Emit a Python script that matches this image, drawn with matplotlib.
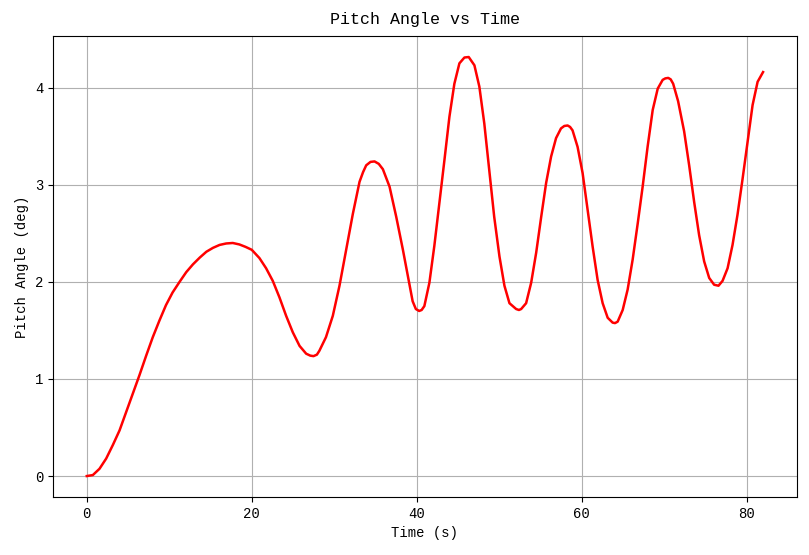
import matplotlib
matplotlib.use("Agg")
import matplotlib.pyplot as plt

# values
time_s = [
    0.0, 0.73, 1.54, 2.35, 3.16, 3.97, 4.78, 5.59, 6.39, 7.2, 8.0, 8.8, 9.6,
    10.4, 11.25, 12.06, 12.87, 13.7, 14.5, 15.3, 16.1, 16.9, 17.7, 18.5, 19.25,
    20.0, 20.93, 21.74, 22.55, 23.36, 24.17, 24.98, 25.8, 26.6, 27.1, 27.49,
    27.9, 28.2, 29.0, 29.83, 30.64, 31.45, 32.26, 33.07, 33.5, 33.88, 34.4,
    34.89, 35.4, 35.9, 36.71, 37.52, 38.33, 39.14, 39.51, 39.9, 40.3, 40.6,
    40.93, 41.54, 42.14, 42.75, 43.36, 43.97, 44.57, 45.18, 45.79, 46.31,
    47.0, 47.6, 48.2, 48.8, 49.4, 50.04, 50.64, 51.25, 52.06, 52.4, 52.67,
    53.27, 53.88, 54.49, 55.1, 55.7, 56.3, 56.9, 57.5, 57.9, 58.3, 58.6, 58.9,
    59.51, 60.12, 60.73, 61.34, 61.94, 62.55, 63.16, 63.76, 64.05, 64.37,
    64.98, 65.58, 66.19, 66.8, 67.4, 68.0, 68.62, 69.23, 69.83, 70.15, 70.5,
    70.8, 71.1, 71.7, 72.43, 73.04, 73.65, 74.25, 74.86, 75.47, 76.07, 76.6,
    77.09, 77.7, 78.3, 78.9, 79.5, 80.12, 80.73, 81.34, 82.0,
]
pitch_deg = [
    0.0, 0.01, 0.075, 0.18, 0.32, 0.47, 0.66, 0.85, 1.04, 1.24, 1.43, 1.60, 1.76,
    1.89, 2.0, 2.10, 2.18, 2.25, 2.31, 2.35, 2.38, 2.395, 2.40, 2.385, 2.36,
    2.33, 2.245, 2.14, 2.01, 1.84, 1.65, 1.48, 1.34, 1.26, 1.24, 1.235,
    1.25, 1.29, 1.43, 1.65, 1.96, 2.33, 2.70, 3.03, 3.13, 3.20, 3.235,
    3.24, 3.215, 3.16, 2.98, 2.67, 2.33, 1.97, 1.80, 1.72, 1.70, 1.71,
    1.75, 1.99, 2.37, 2.81, 3.25, 3.70, 4.04, 4.25, 4.31, 4.315,
    4.23, 4.01, 3.63, 3.15, 2.67, 2.26, 1.96, 1.78, 1.72, 1.71, 1.72,
    1.78, 1.99, 2.30, 2.67, 3.02, 3.29, 3.48, 3.58, 3.605, 3.61, 3.595, 3.56,
    3.39, 3.12, 2.74, 2.36, 2.02, 1.78, 1.63, 1.58, 1.575, 1.59,
    1.71, 1.92, 2.23, 2.60, 2.98, 3.39, 3.77, 3.99, 4.08, 4.095, 4.10,
    4.085, 4.04, 3.86, 3.55, 3.20, 2.82, 2.48, 2.21, 2.04, 1.97, 1.96,
    2.01, 2.14, 2.38, 2.69, 3.05, 3.44, 3.82, 4.06, 4.16,
]

plt.rcParams["font.family"] = ["Liberation Mono", "DejaVu Sans Mono"]

fig, ax = plt.subplots(figsize=(8.09, 5.55), dpi=100)
ax.plot(time_s, pitch_deg, color="red", linewidth=1.8)
ax.set_title("Pitch Angle vs Time", fontsize=12, pad=9)
ax.set_xlabel("Time (s)", fontsize=10)
ax.set_ylabel("Pitch Angle (deg)", fontsize=10)
ax.tick_params(labelsize=10)
ax.grid(True)
fig.subplots_adjust(left=0.0655, right=0.985, top=0.935, bottom=0.1045)
fig.savefig("out.png", dpi=100)
